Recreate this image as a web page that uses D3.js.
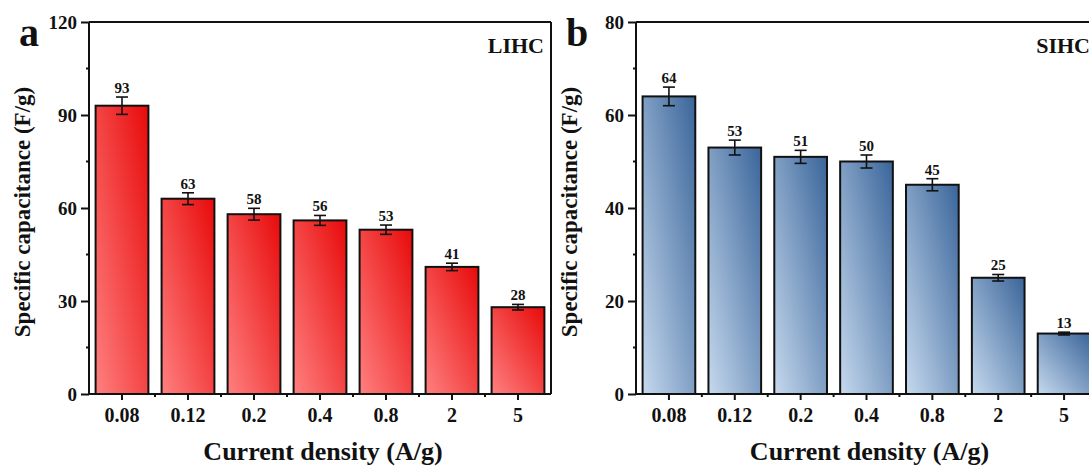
<!DOCTYPE html>
<html>
<head>
<meta charset="utf-8">
<script src="https://cdn.jsdelivr.net/npm/d3@7"></script>
<style>
  body { margin: 0; background: #fff; overflow: hidden; }
  svg { display: block; font-family: "Liberation Serif", "Times New Roman", serif; font-weight: bold; }
</style>
</head>
<body>
<div id="chart"></div>
<script>
// Data
const densities = ["0.08", "0.12", "0.2", "0.4", "0.8", "2", "5"];
const lihcValues = [93, 63, 58, 56, 53, 41, 28];
const lihcErrors = [2.8, 1.9, 1.9, 1.6, 1.5, 1.2, 0.9];
const sihcValues = [64, 53, 51, 50, 45, 25, 13];
const sihcErrors = [2.0, 1.6, 1.4, 1.4, 1.3, 0.7, 0.3];
const lihcTicks = [0, 30, 60, 90, 120];
const sihcTicks = [0, 20, 40, 60, 80];

const width = 1089;
const height = 466;

const svg = d3.select("#chart")
  .append("svg")
  .attr("width", width)
  .attr("height", height);

const defs = svg.append("defs");

// gradients: lighter at bottom-left, darker at top-right
function addGradient(id, light, dark) {
  const g = defs.append("linearGradient")
    .attr("id", id)
    .attr("x1", "0%").attr("y1", "100%")
    .attr("x2", "100%").attr("y2", "0%");
  g.append("stop").attr("offset", "0%").attr("stop-color", light);
  g.append("stop").attr("offset", "100%").attr("stop-color", dark);
}
addGradient("redGrad", "#ff8080", "#e80a0a");
addGradient("blueGrad", "#c6d9ee", "#3a659a");

function drawPanel(opts) {
  const { left, right, top, bottom, values, errors, ticks, yMax, fill, letter, tag } = opts;

  const xc = d3.scaleBand().domain(densities).range([left, right]).padding(0);
  const y = d3.scaleLinear().domain([0, yMax]).range([bottom, top]);

  const g = svg.append("g");

  // bars
  g.append("g")
    .selectAll("rect")
    .data(values)
    .join("rect")
    .attr("x", (d, i) => xc(densities[i]) + xc.bandwidth() * 0.1)
    .attr("width", xc.bandwidth() * 0.8)
    .attr("y", d => y(d))
    .attr("height", d => y(0) - y(d))
    .attr("fill", `url(#${fill})`)
    .attr("stroke", "#111")
    .attr("stroke-width", 2);

  // error bars
  const eb = g.append("g").attr("stroke", "#111").attr("stroke-width", 1.6);
  values.forEach((v, i) => {
    const cx = xc(densities[i]) + xc.bandwidth() / 2;
    const e = errors[i];
    eb.append("line").attr("x1", cx).attr("x2", cx).attr("y1", y(v + e)).attr("y2", y(v - e));
    eb.append("line").attr("x1", cx - 6).attr("x2", cx + 6).attr("y1", y(v + e)).attr("y2", y(v + e));
    eb.append("line").attr("x1", cx - 6).attr("x2", cx + 6).attr("y1", y(v - e)).attr("y2", y(v - e));
  });

  // value labels
  g.append("g")
    .selectAll("text")
    .data(values)
    .join("text")
    .attr("x", (d, i) => xc(densities[i]) + xc.bandwidth() / 2)
    .attr("y", (d, i) => y(d + errors[i]) - 4)
    .attr("text-anchor", "middle")
    .attr("font-size", 15)
    .attr("fill", "#111")
    .text(d => d);

  // frame (top/right)
  g.append("line").attr("x1", left).attr("x2", right).attr("y1", top).attr("y2", top)
    .attr("stroke", "#111").attr("stroke-width", 2);
  g.append("line").attr("x1", right).attr("x2", right).attr("y1", top).attr("y2", bottom)
    .attr("stroke", "#111").attr("stroke-width", 2);

  // y axis
  const yAxis = g.append("g")
    .attr("transform", `translate(${left},0)`)
    .call(d3.axisLeft(y).tickValues(ticks).tickSize(8).tickPadding(4));
  // minor ticks
  const minor = d3.range(0, ticks.length - 1).map(i => (ticks[i] + ticks[i + 1]) / 2);
  yAxis.selectAll(".minor").data(minor).join("line")
    .attr("class", "minor")
    .attr("x1", -3).attr("x2", 0)
    .attr("y1", d => y(d)).attr("y2", d => y(d))
    .attr("stroke", "#111").attr("stroke-width", 2);

  // x axis
  const xAxis = g.append("g")
    .attr("transform", `translate(0,${bottom})`)
    .call(d3.axisBottom(xc).tickSize(6).tickPadding(8));
  xAxis.selectAll(".minorx").data(densities.slice(1)).join("line")
    .attr("class", "minorx")
    .attr("x1", d => xc(d)).attr("x2", d => xc(d))
    .attr("y1", 0).attr("y2", 3)
    .attr("stroke", "#111").attr("stroke-width", 2);

  [yAxis, xAxis].forEach(a => {
    a.attr("font-family", null).attr("font-size", null);
    a.select(".domain").attr("stroke", "#111").attr("stroke-width", 2);
    a.selectAll(".tick line").attr("stroke", "#111").attr("stroke-width", 2);
    a.selectAll(".tick text")
      .attr("font-size", 19)
      .attr("fill", "#111");
  });
  xAxis.selectAll(".tick text").attr("font-size", 20);
  // axis lines without end ticks
  yAxis.select(".domain").attr("d", `M0,${bottom}V${top}`);
  xAxis.select(".domain").attr("d", `M${left},0H${right}`);

  // axis titles
  svg.append("text")
    .attr("transform", `translate(${left - 59},${(top + bottom) / 2 + 4}) rotate(-90)`)
    .attr("text-anchor", "middle")
    .attr("font-size", 23)
    .attr("fill", "#111")
    .text("Specific capacitance (F/g)");

  svg.append("text")
    .attr("x", (left + right) / 2 + 3)
    .attr("y", 460)
    .attr("text-anchor", "middle")
    .attr("font-size", 26)
    .attr("fill", "#111")
    .text("Current density (A/g)");

  // panel letter
  svg.append("text")
    .attr("x", left - 70)
    .attr("y", 46)
    .attr("font-size", 40)
    .attr("fill", "#111")
    .text(letter);

  // series tag
  svg.append("text")
    .attr("x", right - 7)
    .attr("y", 53)
    .attr("text-anchor", "end")
    .attr("font-size", 22)
    .attr("fill", "#111")
    .text(tag);
}

drawPanel({
  left: 89, right: 551, top: 22, bottom: 394,
  values: lihcValues, errors: lihcErrors, ticks: lihcTicks, yMax: 120,
  fill: "redGrad", letter: "a", tag: "LIHC"
});

drawPanel({
  left: 636, right: 1097, top: 22, bottom: 394,
  values: sihcValues, errors: sihcErrors, ticks: sihcTicks, yMax: 80,
  fill: "blueGrad", letter: "b", tag: "SIHC"
});
</script>
</body>
</html>
